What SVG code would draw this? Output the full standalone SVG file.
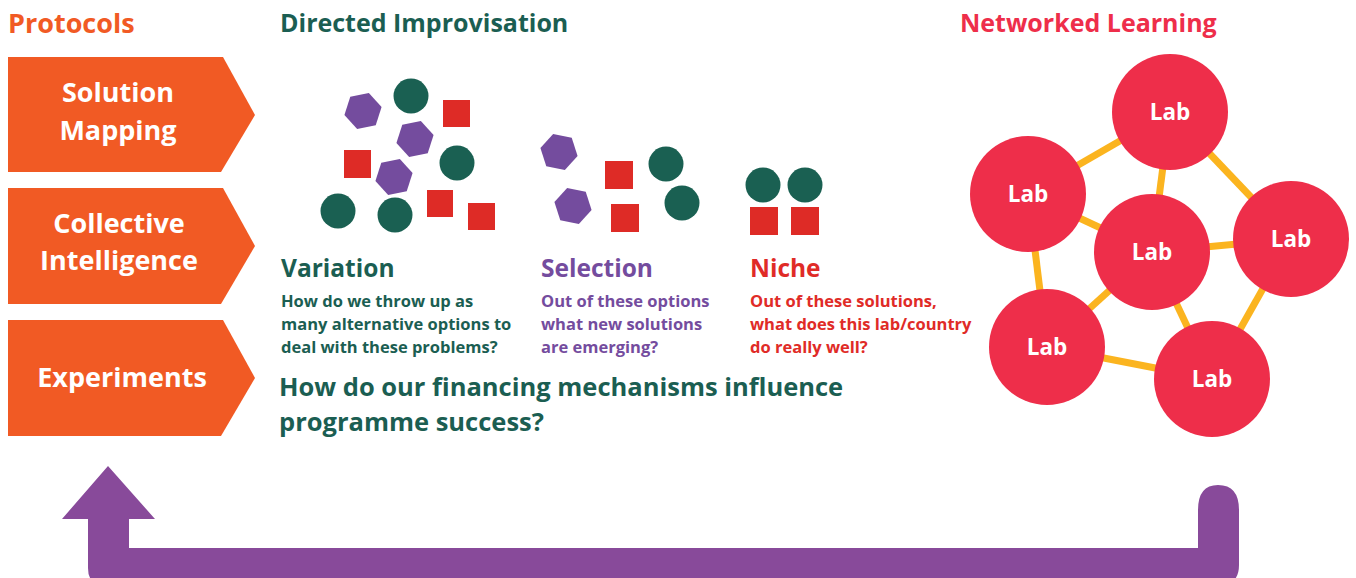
<svg xmlns="http://www.w3.org/2000/svg" width="1356" height="578" viewBox="0 0 1356 578">
<style>
text{font-family:"Open Sans","Liberation Sans",sans-serif;font-weight:700}
.chev{fill:#F15A24}
.ct{fill:#fff;font-size:27px;text-anchor:middle}
.hd{font-size:25px}
.sub{font-size:24.5px}
.big{font-size:25.5px}
.body{font-size:16.5px}
.g{fill:#1B5E52}
.p{fill:#744C9E}
.r{fill:#E02B27}
.hex{fill:#744C9E}
.sq{fill:#DE2B26}
.dot{fill:#1A6052}
.lab{fill:#EE2E4A}
.lt{fill:#fff;font-size:22.5px;text-anchor:middle}
.edge{stroke:#FBB41F;stroke-width:7;fill:none}
</style>
<defs>
<polygon id="hx" points="19,0 9.5,16.5 -9.5,16.5 -19,0 -9.5,-16.5 9.5,-16.5"/>
</defs>
<text x="8" y="33" class="hd" fill="#F15A24" style="font-size:27px">Protocols</text>
<text x="280" y="32" class="hd g">Directed Improvisation</text>
<text x="960" y="32" class="hd" fill="#EE2E4A">Networked Learning</text>

<g id="solution-mapping">
<polygon class="chev" points="8,57 223,57 255,115 221,172 8,172"/>
<text x="118" y="102" class="ct">Solution</text>
<text x="118" y="140" class="ct">Mapping</text>
</g>
<g id="collective-intelligence">
<polygon class="chev" points="8,188 223,188 255,246 221,304 8,304"/>
<text x="119" y="233" class="ct">Collective</text>
<text x="119" y="270" class="ct">Intelligence</text>
</g>
<g id="experiments">
<polygon class="chev" points="8,320 223,320 255,378 221,436 8,436"/>
<text x="122" y="387" class="ct">Experiments</text>
</g>

<g id="variation">
<use href="#hx" class="hex" transform="translate(363,111) rotate(-12)"/>
<use href="#hx" class="hex" transform="translate(415,139) rotate(-12)"/>
<use href="#hx" class="hex" transform="translate(394,177) rotate(-12)"/>
<circle class="dot" cx="411" cy="96" r="17.5"/>
<circle class="dot" cx="457" cy="163" r="17.5"/>
<circle class="dot" cx="338" cy="211" r="17.5"/>
<circle class="dot" cx="395" cy="215" r="17.5"/>
<rect class="sq" x="443" y="100" width="27" height="27"/>
<rect class="sq" x="344" y="150" width="27" height="28"/>
<rect class="sq" x="427" y="190" width="26" height="27"/>
<rect class="sq" x="468" y="203" width="27" height="27"/>
<text x="281" y="277" class="sub g">Variation</text>
<text class="body g"><tspan x="281" y="307">How do we throw up as</tspan><tspan x="281" y="330">many alternative options to</tspan><tspan x="281" y="353">deal with these problems?</tspan></text>
</g>

<g id="selection">
<use href="#hx" class="hex" transform="translate(559,152) rotate(12)"/>
<use href="#hx" class="hex" transform="translate(573,206) rotate(12)"/>
<rect class="sq" x="605" y="161" width="28" height="28"/>
<rect class="sq" x="611" y="204" width="28" height="28"/>
<circle class="dot" cx="666" cy="164" r="17.5"/>
<circle class="dot" cx="682" cy="203" r="17.5"/>
<text x="541" y="277" class="sub p">Selection</text>
<text class="body p"><tspan x="541" y="307">Out of these options</tspan><tspan x="541" y="330">what new solutions</tspan><tspan x="541" y="353">are emerging?</tspan></text>
</g>

<g id="niche">
<circle class="dot" cx="763" cy="185" r="17.5"/>
<circle class="dot" cx="805" cy="185" r="17.5"/>
<rect class="sq" x="750" y="207" width="28" height="28"/>
<rect class="sq" x="791" y="207" width="28" height="28"/>
<text x="750" y="277" class="sub r">Niche</text>
<text class="body r"><tspan x="750" y="307">Out of these solutions,</tspan><tspan x="750" y="330">what does this lab/country</tspan><tspan x="750" y="353">do really well?</tspan></text>
</g>

<g id="financing-question">
<text class="big g"><tspan x="279" y="396">How do our financing mechanisms influence</tspan><tspan x="279" y="431">programme success?</tspan></text>
</g>

<g id="connectors">
<line class="edge" x1="1170" y1="112" x2="1028" y2="194"/>
<line class="edge" x1="1170" y1="112" x2="1152" y2="252"/>
<line class="edge" x1="1170" y1="112" x2="1291" y2="239"/>
<line class="edge" x1="1028" y1="194" x2="1152" y2="252"/>
<line class="edge" x1="1028" y1="194" x2="1047" y2="347"/>
<line class="edge" x1="1152" y1="252" x2="1291" y2="239"/>
<line class="edge" x1="1152" y1="252" x2="1047" y2="347"/>
<line class="edge" x1="1152" y1="252" x2="1212" y2="379"/>
<line class="edge" x1="1291" y1="239" x2="1212" y2="379"/>
<line class="edge" x1="1047" y1="347" x2="1212" y2="379"/>
<path id="feedback-arrow" fill="#884A9A" d="M108,466 L155,519 L129,519 L129,548 L1198,548 L1198,510 Q1198,485 1218,485 Q1239,485 1239,510 L1239,565 Q1239,585 1220,585 L104,585 Q88,585 88,568 L88,519 L62,519 Z"/>
</g>

<g id="lab-top"><circle class="lab" cx="1170" cy="112" r="58"/><text class="lt" x="1170" y="120">Lab</text></g>
<g id="lab-left"><circle class="lab" cx="1028" cy="194" r="58"/><text class="lt" x="1028" y="202">Lab</text></g>
<g id="lab-center"><circle class="lab" cx="1152" cy="252" r="58"/><text class="lt" x="1152" y="260">Lab</text></g>
<g id="lab-right"><circle class="lab" cx="1291" cy="239" r="58"/><text class="lt" x="1291" y="247">Lab</text></g>
<g id="lab-bottom-left"><circle class="lab" cx="1047" cy="347" r="58"/><text class="lt" x="1047" y="355">Lab</text></g>
<g id="lab-bottom-right"><circle class="lab" cx="1212" cy="379" r="58"/><text class="lt" x="1212" y="387">Lab</text></g>
</svg>
